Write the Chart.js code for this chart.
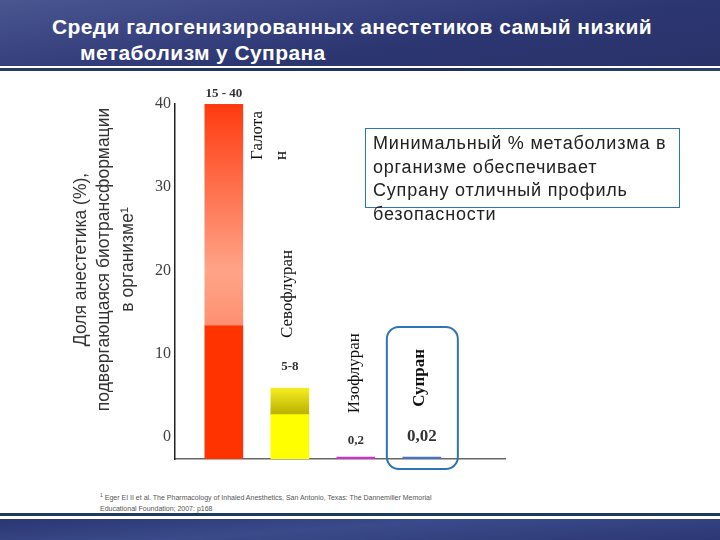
<!DOCTYPE html>
<html>
<head>
<meta charset="utf-8">
<script src="https://cdn.jsdelivr.net/npm/chart.js@4.4.0/dist/chart.umd.min.js"></script>
<style>
  html, body { margin: 0; padding: 0; }
  body { width: 720px; height: 540px; position: relative; overflow: hidden; background: #fff; font-family: "Liberation Sans", Arial, sans-serif; }
  #header { position: absolute; left: 0; top: 0; width: 720px; height: 66px;
    background: linear-gradient(172deg, #4a5690 0%, #3a4582 30%, #2c3671 60%, #2a3269 100%); }
  #headerLine { position: absolute; left: 0; top: 68px; width: 720px; height: 3px; background: linear-gradient(90deg, #2a3a66, #1e2f5c 60%, #2a4070); }
  #title { position: absolute; left: 52px; top: 14px; color: #fff; font-weight: bold; font-size: 21px; letter-spacing: 0.4px; line-height: 26px; white-space: nowrap; }
  #title .l2 { padding-left: 28px; }
  #note { position: absolute; left: 365px; top: 128px; width: 306px; height: 75px; border: 1.5px solid #2e75b6;
    padding: 3px 0 0 7px; font-size: 18px; letter-spacing: 0.8px; line-height: 23.5px; color: #222; z-index: 2; overflow: visible; white-space: nowrap; }
  #foot { position: absolute; left: 100px; top: 490px; font-size: 7px; line-height: 11px; color: #555; white-space: nowrap; }
  #footLine { position: absolute; left: 0; top: 513px; width: 720px; height: 3px; background: #1f3a60; }
  #footer { position: absolute; left: 0; top: 519px; width: 720px; height: 21px;
    background: linear-gradient(176deg, #2b3672 0%, #3a4a8a 45%, #2c3874 100%); }
  canvas { position: absolute; left: 0; top: 0; z-index: 1; }
</style>
</head>
<body>
<div id="header"></div>
<div id="headerLine"></div>
<div id="title">Среди галогенизированных анестетиков самый низкий<br><span class="l2">метаболизм у Супрана</span></div>
<div id="note">Минимальный % метаболизма в<br>организме обеспечивает<br>Супрану отличный профиль<br>безопасности</div>
<div id="foot"><sup style="font-size:5px">1</sup> Eger EI II et al. The Pharmacology of Inhaled Anesthetics, San Antonio, Texas: The Dannemiller Memorial<br>Educational Foundation; 2007: p168</div>
<div id="footLine"></div>
<div id="footer"></div>
<canvas id="chart" width="720" height="540"></canvas>
<script>
// данные
const categories = ['Галотан', 'Севофлуран', 'Изофлуран', 'Супран'];
const nameLines = [['Галота', 'н'], ['Севофлуран'], ['Изофлуран'], ['Супран']];
const minValues = [15, 5, 0.2, 0.02];
const maxValues = [40, 8, 0.2, 0.02];
const valueLabels = ['15 - 40', '5-8', '0,2', '0,02'];
const yTickValues = [0, 10, 20, 30, 40];
const yTitleLines = ['Доля анестетика (%),', 'подвергающаяся биотрансформации', 'в организме¹'];

// стили
const solidColors = ['#ff3300', '#ffff00', '#cc33cc', '#4472c4'];
const rangeStops = [
  [[0, '#ff3a0f'], [0.75, '#ffa488'], [1, '#ff8f70']],
  [[0, '#f6ee22'], [1, '#b8b000']],
  [[0, '#cc33cc'], [1, '#cc33cc']],
  [[0, '#4472c4'], [1, '#4472c4']]
];

function rangeFill(context) {
  const chart = context.chart;
  const i = context.dataIndex;
  if (!chart.chartArea) return solidColors[i];
  const y = chart.scales.y;
  const g = chart.ctx.createLinearGradient(0, y.getPixelForValue(maxValues[i]), 0, y.getPixelForValue(minValues[i]));
  rangeStops[i].forEach(s => g.addColorStop(s[0], s[1]));
  return g;
}

// подписи, рамка вокруг Супрана, заголовок оси
const overlay = {
  id: 'overlay',
  afterDraw(chart) {
    const { ctx, scales: { x, y } } = chart;
    const base = y.getPixelForValue(0);
    const valueGap = [10, 21, 17, 22];
    const nameShift = [34, -2, -1, -2];
    const nameDy = [56, -50, -44, -52];

    ctx.save();
    ctx.fillStyle = '#333';
    ctx.font = '17.5px "Liberation Sans"';
    ctx.textAlign = 'center';
    ctx.textBaseline = 'middle';
    ctx.translate(x.left - 94, (y.top + base) / 2 - 22);
    ctx.rotate(-Math.PI / 2);
    yTitleLines.forEach((t, k) => ctx.fillText(t, 0, k * 23.5));
    ctx.restore();

    categories.forEach((c, i) => {
      const cx = x.getPixelForValue(i);
      const top = y.getPixelForValue(maxValues[i]);

      ctx.save();
      ctx.fillStyle = '#333';
      ctx.textAlign = 'center';
      ctx.textBaseline = 'middle';
      ctx.font = (i === 3 ? 'bold 17px' : 'bold 13px') + ' "Liberation Serif"';
      ctx.fillText(valueLabels[i], cx, top - valueGap[i]);
      ctx.restore();

      ctx.save();
      ctx.fillStyle = '#111';
      ctx.font = (i === 3 ? 'bold ' : '') + '17px "Liberation Serif"';
      ctx.textAlign = 'left';
      ctx.textBaseline = 'middle';
      ctx.translate(cx + nameShift[i], top + nameDy[i]);
      ctx.rotate(-Math.PI / 2);
      nameLines[i].forEach((t, k) => ctx.fillText(t, 0, k * 24));
      ctx.restore();
    });

    const sx = x.getPixelForValue(3);
    ctx.save();
    ctx.strokeStyle = '#2e75b6';
    ctx.lineWidth = 2;
    ctx.beginPath();
    ctx.roundRect(sx - 35, base - 132, 71, 142, 12);
    ctx.stroke();
    ctx.restore();
  }
};

const ctx = document.getElementById('chart').getContext('2d');
new Chart(ctx, {
  type: 'bar',
  data: {
    datasets: [
      {
        label: 'min',
        data: minValues.map((v, i) => ({ x: i, y: v })),
        backgroundColor: solidColors,
        barThickness: 38,
        minBarLength: 2,
        grouped: false,
        yAxisID: 'y'
      },
      {
        label: 'range',
        data: minValues.map((v, i) => ({ x: i, y: maxValues[i] > v ? [v, maxValues[i]] : null })),
        backgroundColor: rangeFill,
        barThickness: 38,
        grouped: false,
        yAxisID: 'y'
      }
    ]
  },
  options: {
    responsive: false,
    animation: false,
    layout: { padding: { left: 65, right: 215, top: 104, bottom: 81 } },
    plugins: { legend: { display: false }, tooltip: { enabled: false } },
    scales: {
      x: {
        type: 'linear',
        min: -0.74,
        max: 4.26,
        offset: false,
        ticks: { display: false },
        grid: { display: false, drawTicks: false },
        border: { display: true, color: '#666', width: 1.5 },
        afterFit: s => { s.height = 0; }
      },
      y: {
        display: false,
        min: 0,
        max: 40
      },
      y1: {
        position: 'left',
        min: -2.64,
        max: 40,
        grid: { display: false, drawTicks: false },
        border: { display: true, color: '#222', width: 1.5 },
        ticks: { padding: 4, color: '#404040', font: { family: '"Liberation Serif"', size: 16 } },
        afterBuildTicks: s => { s.ticks = yTickValues.map(v => ({ value: v })); },
        afterFit: s => { s.width = 110; }
      }
    }
  },
  plugins: [overlay]
});
</script>
</body>
</html>
